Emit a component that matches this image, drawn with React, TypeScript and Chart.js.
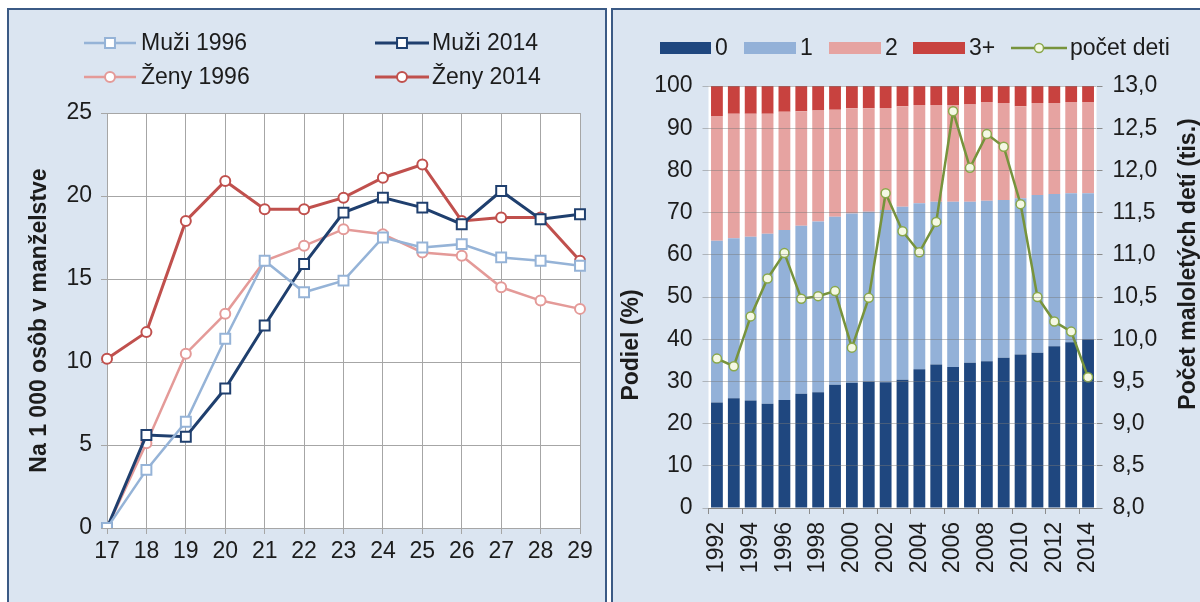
import React, { useEffect, useRef } from 'react';
import { Chart, registerables } from 'chart.js';

Chart.register(...registerables);

const FONT = '"Liberation Sans", Arial, sans-serif';
const TEXT = '#1c1c1c';
const FS = 23;

// ---- Left chart data ----
const ages = ['17', '18', '19', '20', '21', '22', '23', '24', '25', '26', '27', '28', '29'];
const muzi1996 = [0, 3.5, 6.4, 11.4, 16.1, 14.2, 14.9, 17.5, 16.9, 17.1, 16.3, 16.1, 15.8];
const muzi2014 = [0, 5.6, 5.5, 8.4, 12.2, 15.9, 19.0, 19.9, 19.3, 18.3, 20.3, 18.6, 18.9];
const zeny1996 = [0, 5.1, 10.5, 12.9, 16.1, 17.0, 18.0, 17.7, 16.6, 16.4, 14.5, 13.7, 13.2];
const zeny2014 = [10.2, 11.8, 18.5, 20.9, 19.2, 19.2, 19.9, 21.1, 21.9, 18.5, 18.7, 18.7, 16.1];

// ---- Right chart data ----
const years = ['1992', '1993', '1994', '1995', '1996', '1997', '1998', '1999', '2000', '2001', '2002', '2003',
  '2004', '2005', '2006', '2007', '2008', '2009', '2010', '2011', '2012', '2013', '2014'];
const share0 = [25.0, 26.0, 25.5, 24.7, 25.6, 27.1, 27.4, 29.2, 29.7, 30.0, 29.8, 30.4, 32.9, 34.0, 33.4, 34.4, 34.8, 35.6, 36.4, 36.8, 38.3, 39.3, 40.0];
const share1 = [38.3, 37.9, 38.8, 40.3, 40.3, 39.8, 40.5, 39.8, 40.1, 40.2, 40.8, 41.0, 39.3, 38.6, 39.2, 38.2, 38.0, 37.4, 37.0, 37.4, 36.1, 35.3, 34.6];
const share2 = [29.6, 29.5, 29.1, 28.4, 28.0, 27.1, 26.3, 25.4, 24.9, 24.5, 24.2, 23.8, 23.3, 22.9, 22.9, 23.0, 23.4, 23.0, 21.8, 21.8, 21.6, 21.6, 21.6];
const share3 = [7.1, 6.6, 6.6, 6.6, 6.1, 6.0, 5.8, 5.6, 5.3, 5.3, 5.2, 4.8, 4.5, 4.5, 4.5, 4.4, 3.8, 4.0, 4.8, 4.0, 4.0, 3.8, 3.8];
const pocetDeti = [9.77, 9.68, 10.27, 10.72, 11.02, 10.48, 10.51, 10.57, 9.90, 10.49, 11.73, 11.28, 11.03, 11.39, 12.70, 12.03, 12.43, 12.28, 11.60, 10.50, 10.21, 10.09, 9.55];

const plotBg = {
  id: 'plotBg',
  beforeDraw(chart: any) {
    const { ctx, chartArea: a } = chart;
    ctx.save();
    ctx.fillStyle = '#ffffff';
    ctx.fillRect(a.left, a.top, a.right - a.left, a.bottom - a.top);
    ctx.restore();
  },
};

function drawMarker(ctx: CanvasRenderingContext2D, ds: any, x: number, y: number) {
  const r = ds.pointRadius;
  ctx.fillStyle = ds.pointBackgroundColor;
  ctx.strokeStyle = ds.pointBorderColor;
  ctx.lineWidth = ds.pointBorderWidth;
  ctx.beginPath();
  if (ds.pointStyle === 'rect') {
    const s = r * Math.SQRT1_2;
    ctx.rect(x - s, y - s, 2 * s, 2 * s);
  } else {
    ctx.arc(x, y, r, 0, Math.PI * 2);
  }
  ctx.fill();
  ctx.stroke();
}

const customLegend = {
  id: 'customLegend',
  afterDraw(chart: any, _args: any, opts: any) {
    const { ctx } = chart;
    ctx.save();
    ctx.font = `${FS}px ${FONT}`;
    ctx.textBaseline = 'middle';
    ctx.textAlign = 'left';
    for (const it of opts.items || []) {
      const ds = chart.data.datasets[it.ds];
      if (it.kind === 'box') {
        ctx.fillStyle = ds.backgroundColor;
        ctx.fillRect(it.x, it.y - it.h / 2, it.w, it.h);
      } else {
        ctx.strokeStyle = ds.borderColor;
        ctx.lineWidth = ds.borderWidth;
        ctx.beginPath();
        ctx.moveTo(it.x, it.y);
        ctx.lineTo(it.x + it.w, it.y);
        ctx.stroke();
        drawMarker(ctx, ds, it.x + it.w / 2, it.y);
      }
      ctx.fillStyle = TEXT;
      ctx.fillText(ds.label, it.textX, it.y + 1);
    }
    ctx.restore();
  },
};

const axisTitles = {
  id: 'axisTitles',
  afterDraw(chart: any, _args: any, opts: any) {
    const { ctx } = chart;
    for (const t of opts.titles || []) {
      ctx.save();
      ctx.translate(t.x, t.y);
      ctx.rotate(-Math.PI / 2);
      ctx.font = `bold ${FS}px ${FONT}`;
      ctx.fillStyle = TEXT;
      ctx.textAlign = 'center';
      ctx.textBaseline = 'middle';
      ctx.fillText(t.text, 0, 0);
      ctx.restore();
    }
  },
};

const tickFont = { family: FONT, size: FS };

export default function App() {
  const leftRef = useRef<HTMLCanvasElement>(null);
  const rightRef = useRef<HTMLCanvasElement>(null);

  useEffect(() => {
    const lineDs = (label: string, data: number[], color: string, style: string, bw: number, r: number) => ({
      type: 'line' as const,
      label,
      data,
      borderColor: color,
      backgroundColor: color,
      borderWidth: bw,
      tension: 0,
      pointStyle: style,
      pointRadius: r,
      pointHoverRadius: r,
      pointBackgroundColor: '#ffffff',
      pointBorderColor: color,
      pointBorderWidth: 2,
    });

    const c1 = new Chart(leftRef.current!, {
      type: 'line',
      data: {
        labels: ages,
        datasets: [
          lineDs('Muži 1996', muzi1996, '#95b3d7', 'rect', 2.5, 7),
          lineDs('Muži 2014', muzi2014, '#1f3f6e', 'rect', 3, 7),
          lineDs('Ženy 1996', zeny1996, '#e49a98', 'circle', 2.5, 5),
          lineDs('Ženy 2014', zeny2014, '#c0504d', 'circle', 3, 5),
        ] as any,
      },
      options: {
        responsive: false,
        maintainAspectRatio: false,
        animation: false,
        layout: { padding: { top: 103, left: 0, right: 25, bottom: 0 } },
        plugins: {
          legend: { display: false },
          tooltip: { enabled: false },
          customLegend: {
            items: [
              { ds: 0, kind: 'line', x: 75, y: 33, w: 52, textX: 132 },
              { ds: 1, kind: 'line', x: 366, y: 33, w: 54, textX: 423 },
              { ds: 2, kind: 'line', x: 75, y: 67, w: 52, textX: 132 },
              { ds: 3, kind: 'line', x: 366, y: 67, w: 54, textX: 423 },
            ],
          },
        } as any,
        scales: {
          x: {
            offset: false,
            grid: { color: '#a6a6a6', lineWidth: 1, tickLength: 6, drawTicks: true },
            border: { color: '#a6a6a6' },
            ticks: { font: tickFont, color: TEXT, padding: 4, maxRotation: 0, autoSkip: false },
            afterFit: (s: any) => { s.height = 74; },
          },
          y: {
            min: 0,
            max: 25,
            grid: { color: '#a6a6a6', lineWidth: 1, tickLength: 6 },
            border: { color: '#a6a6a6' },
            ticks: { stepSize: 5, font: tickFont, color: TEXT, padding: 9 },
            title: {
              display: true,
              text: 'Na 1 000 osôb v manželstve',
              font: { family: FONT, size: FS, weight: 'bold' },
              color: TEXT,
              padding: { top: 17, bottom: 0 },
            },
            afterFit: (s: any) => { s.width = 98; },
          },
        },
      },
      plugins: [plotBg, customLegend],
    });

    const barDs = (label: string, data: number[], color: string) => ({
      type: 'bar' as const,
      label,
      data,
      backgroundColor: color,
      borderWidth: 0,
      stack: 'shares',
      yAxisID: 'y',
      order: 2,
      categoryPercentage: 1,
      barPercentage: 0.7,
    });

    const c2 = new Chart(rightRef.current!, {
      type: 'bar',
      data: {
        labels: years,
        datasets: [
          barDs('0', share0, '#1f477f'),
          barDs('1', share1, '#93b1d8'),
          barDs('2', share2, '#e6a3a1'),
          barDs('3+', share3, '#c8423f'),
          {
            type: 'line',
            label: 'počet deti',
            data: pocetDeti,
            yAxisID: 'y1',
            order: 0,
            borderColor: '#77933c',
            backgroundColor: '#77933c',
            borderWidth: 2.5,
            tension: 0,
            pointStyle: 'circle',
            pointRadius: 4.5,
            pointHoverRadius: 4.5,
            pointBackgroundColor: '#f4f8e4',
            pointBorderColor: '#8aa84a',
            pointBorderWidth: 1.5,
          },
        ] as any,
      },
      options: {
        responsive: false,
        maintainAspectRatio: false,
        animation: false,
        layout: { padding: { top: 76, left: 0, right: 0, bottom: 0 } },
        plugins: {
          legend: { display: false },
          tooltip: { enabled: false },
          customLegend: {
            items: [
              { ds: 0, kind: 'box', x: 47, y: 38, w: 51, h: 12, textX: 102 },
              { ds: 1, kind: 'box', x: 131, y: 38, w: 52, h: 12, textX: 187 },
              { ds: 2, kind: 'box', x: 216, y: 38, w: 52, h: 12, textX: 272 },
              { ds: 3, kind: 'box', x: 300, y: 38, w: 52, h: 12, textX: 356 },
              { ds: 4, kind: 'line', x: 398, y: 38, w: 56, textX: 457 },
            ],
          },
          axisTitles: {
            titles: [
              { text: 'Podiel (%)', x: 19, y: 335 },
              { text: 'Počet maloletých detí (tis.)', x: 576, y: 254 },
            ],
          },
        } as any,
        scales: {
          x: {
            stacked: true,
            offset: true,
            grid: {
              drawOnChartArea: false,
              tickLength: 6,
              offset: true,
              color: (c: any) => (c.index % 2 === 0 ? '#8c8c8c' : 'rgba(0,0,0,0)'),
            },
            border: { color: '#8c8c8c' },
            ticks: {
              font: tickFont,
              color: TEXT,
              padding: 8,
              autoSkip: false,
              minRotation: 90,
              maxRotation: 90,
              callback: (_v: any, i: number) => (i % 2 === 0 ? years[i] : ''),
            },
            afterFit: (s: any) => { s.height = 94; },
          },
          y: {
            stacked: true,
            min: 0,
            max: 100,
            grid: { color: 'rgba(120,120,120,0.45)', lineWidth: 1, tickLength: 6, z: 1 },
            border: { display: false },
            ticks: { stepSize: 10, font: tickFont, color: TEXT, padding: 10 },
            afterFit: (s: any) => { s.width = 95.5; },
          },
          y1: {
            position: 'right',
            stacked: false,
            min: 8,
            max: 13,
            grid: { drawOnChartArea: false, color: '#8c8c8c', tickLength: 6 },
            border: { display: false },
            ticks: {
              stepSize: 0.5,
              font: tickFont,
              color: TEXT,
              padding: 10,
              callback: (v: any) => Number(v).toFixed(1).replace('.', ','),
            },
            afterFit: (s: any) => { s.width = 103.5; },
          },
        },
      },
      plugins: [plotBg, customLegend, axisTitles],
    });

    return () => {
      c1.destroy();
      c2.destroy();
    };
  }, []);

  const panel = (left: number): React.CSSProperties => ({
    position: 'absolute',
    left,
    top: 8,
    width: 600,
    height: 600,
    boxSizing: 'border-box',
    borderTop: '2px solid #3b5a85',
    borderLeft: '2px solid #3b5a85',
    borderRight: '2px solid #3b5a85',
    background: '#dbe5f1',
  });

  return (
    <div style={{ position: 'fixed', left: 0, top: 0, width: 1200, height: 602, background: '#ffffff', overflow: 'hidden' }}>
      <div style={panel(7)}>
        <canvas ref={leftRef} width={596} height={592} style={{ display: 'block', width: 596, height: 592 }} />
      </div>
      <div style={panel(611)}>
        <canvas ref={rightRef} width={587} height={592} style={{ display: 'block', width: 587, height: 592 }} />
      </div>
    </div>
  );
}
